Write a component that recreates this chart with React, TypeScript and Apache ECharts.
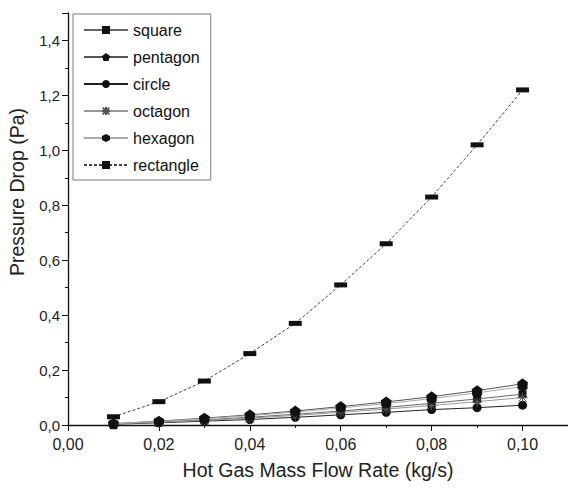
import React, { useEffect, useRef } from "react";
import * as echarts from "echarts";

const flowRates = [0.01, 0.02, 0.03, 0.04, 0.05, 0.06, 0.07, 0.08, 0.09, 0.1];
const squareVals = [0.004, 0.011, 0.019, 0.028, 0.039, 0.051, 0.064, 0.079, 0.095, 0.112];
const pentagonVals = [0.005, 0.014, 0.025, 0.037, 0.051, 0.067, 0.084, 0.103, 0.125, 0.15];
const circleVals = [0.003, 0.008, 0.014, 0.02, 0.028, 0.037, 0.046, 0.056, 0.063, 0.072];
const octagonVals = [0.004, 0.01, 0.017, 0.025, 0.035, 0.046, 0.058, 0.071, 0.085, 0.1];
const hexagonVals = [0.005, 0.013, 0.023, 0.034, 0.047, 0.062, 0.078, 0.096, 0.117, 0.14];
const rectangleVals = [0.03, 0.085, 0.16, 0.26, 0.37, 0.51, 0.66, 0.83, 1.02, 1.22];

const FONT = "Liberation Sans, Arial, sans-serif";

const PENTAGON = "path://M0,-10 L9.5,-3.1 L5.9,8.1 L-5.9,8.1 L-9.5,-3.1 Z";
const HEXAGON = "path://M0,-10 L8.66,-5 L8.66,5 L0,10 L-8.66,5 L-8.66,-5 Z";
const ASTERISK = "path://M-5,-5 L5,5 M-5,5 L5,-5 M0,-6 L0,6 M-6,0 L6,0";

function pairs(vals: number[]) {
  return flowRates.map((x, i) => [x, vals[i]]);
}

export default function App() {
  const ref = useRef<HTMLDivElement>(null);
  useEffect(() => {
    document.body.style.margin = "0";
    if (!ref.current) return;
    const chart = echarts.init(ref.current, null, { renderer: "svg" });
    const mk = (
      name: string,
      vals: number[],
      symbol: string,
      symbolSize: any,
      lineColor: string,
      lineType: any = "solid",
      itemStyle: any = { color: "#111" }
    ) => ({
      name,
      type: "line",
      data: pairs(vals),
      symbol,
      symbolSize,
      smooth: false,
      lineStyle: { color: lineColor, width: 1, type: lineType },
      itemStyle,
      z: name === "rectangle" ? 3 : 2,
    });
    chart.setOption({
      animation: false,
      backgroundColor: "#fff",
      grid: { left: 68, right: 0, top: 13, bottom: 64 },
      legend: {
        left: 73,
        top: 14,
        orient: "vertical",
        itemWidth: 44,
        itemHeight: 10,
        itemGap: 11,
        padding: [8, 11, 7, 10],
        borderColor: "#777",
        borderWidth: 1,
        textStyle: { fontFamily: FONT, fontSize: 16, color: "#111" },
      },
      xAxis: {
        type: "value",
        min: 0,
        max: 0.11,
        interval: 0.02,
        name: "Hot Gas Mass Flow Rate (kg/s)",
        nameLocation: "middle",
        nameGap: 35,
        nameTextStyle: { fontFamily: FONT, fontSize: 19.5, color: "#222" },
        axisLine: { lineStyle: { color: "#111", width: 1.3 } },
        axisTick: { length: 6, lineStyle: { color: "#111" } },
        minorTick: { show: true, splitNumber: 2, length: 3, lineStyle: { color: "#111" } },
        splitLine: { show: false },
        axisLabel: {
          showMaxLabel: false,
          margin: 11,
          fontFamily: FONT,
          fontSize: 16,
          color: "#222",
          formatter: (v: number) => v.toFixed(2).replace(".", ","),
        },
      },
      yAxis: {
        type: "value",
        min: 0,
        max: 1.5,
        interval: 0.2,
        axisLine: { show: true, lineStyle: { color: "#111", width: 1.3 } },
        axisTick: { show: true, length: 6, lineStyle: { color: "#111" } },
        minorTick: { show: true, splitNumber: 2, length: 3, lineStyle: { color: "#111" } },
        splitLine: { show: false },
        axisLabel: {
          showMaxLabel: false,
          margin: 8,
          fontFamily: FONT,
          fontSize: 15,
          color: "#222",
          formatter: (v: number) => v.toFixed(1).replace(".", ","),
        },
      },
      graphic: [
        {
          type: "text",
          x: 17,
          y: 192,
          rotation: Math.PI / 2,
          style: {
            text: "Pressure Drop (Pa)",
            fontFamily: FONT,
            fontSize: 19.5,
            fill: "#222",
            align: "center",
            verticalAlign: "middle",
          },
        },
      ],
      series: [
        mk("square", squareVals, "rect", 8, "#666"),
        mk("pentagon", pentagonVals, PENTAGON, 11, "#555"),
        mk("circle", circleVals, "circle", 9, "#222"),
        mk("octagon", octagonVals, ASTERISK, 10, "#999", "solid", {
          color: "#fff",
          borderColor: "#555",
          borderWidth: 1,
        }),
        mk("hexagon", hexagonVals, HEXAGON, 10, "#aaa"),
        mk("rectangle", rectangleVals, "rect", [13, 5], "#444", [3, 2]),
      ],
    });
    return () => chart.dispose();
  }, []);
  return <div ref={ref} style={{ width: 568, height: 489 }} />;
}
